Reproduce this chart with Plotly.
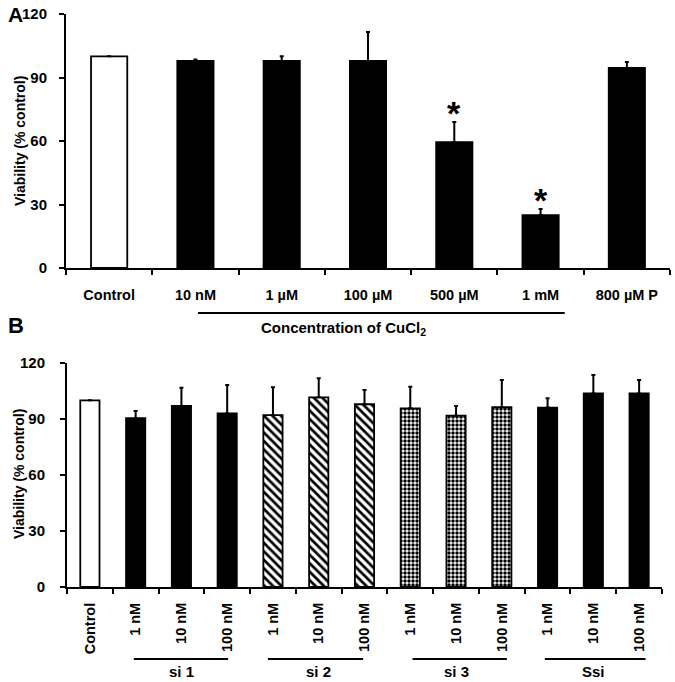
import plotly.graph_objects as go

W, H = 675, 682

# ---------------- data ----------------
a_labels = ["Control", "10 nM", "1 µM", "100 µM", "500 µM", "1 mM", "800 µM P"]
a_values = [100, 97.8, 97.8, 97.8, 59.5, 25.0, 94.5]
a_err = [0, 0.7, 2.2, 13.7, 9.5, 2.9, 2.8]
a_colors = ["white", "black", "black", "black", "black", "black", "black"]
a_signif = [False, False, False, False, True, True, False]

b_labels = ["Control", "1 nM", "10 nM", "100 nM", "1 nM", "10 nM", "100 nM",
            "1 nM", "10 nM", "100 nM", "1 nM", "10 nM", "100 nM"]
b_values = [100, 90.4, 97.0, 93.0, 92.1, 101.6, 97.9, 95.7, 91.8, 96.3, 96.1, 103.7, 103.7]
b_err = [0, 3.9, 9.8, 15.2, 14.9, 10.2, 7.6, 11.6, 5.2, 14.6, 5.0, 9.9, 7.2]
b_group = ["control", "si1", "si1", "si1", "si2", "si2", "si2",
           "si3", "si3", "si3", "ssi", "ssi", "ssi"]
b_group_names = ["si 1", "si 2", "si 3", "Ssi"]
b_group_center = [2, 5, 8, 11]
b_group_start = [0.96, 3.89, 7.05, 9.94]
b_group_end = [3.02, 5.97, 9.11, 12.14]

y_ticks = [0, 30, 60, 90, 120]

FONT = "Liberation Sans, Arial, sans-serif"


def px_x(p):
    return p / W


def px_y(p):
    return 1 - p / H


fig = go.Figure()

# ---------- panel A ----------
xa = list(range(len(a_labels)))
fig.add_trace(go.Bar(
    x=xa, y=a_values, width=0.42,
    marker=dict(color=a_colors, line=dict(color="black", width=1.8)),
    error_y=dict(type="data", symmetric=False, array=a_err,
                 arrayminus=[0] * len(a_err), color="black", thickness=2, width=2),
    xaxis="x", yaxis="y", showlegend=False,
))

# ---------- panel B ----------
style = {
    "control": dict(color="white", pattern=dict(shape="")),
    "si1": dict(color="black", pattern=dict(shape="")),
    "si2": dict(color="white", pattern=dict(shape="\\", fgcolor="black", bgcolor="white",
                                             size=6, solidity=0.45)),
    "si3": dict(color="white", pattern=dict(shape=".", fgcolor="black", bgcolor="white",
                                             size=4, solidity=0.6)),
    "ssi": dict(color="black", pattern=dict(shape="")),
}
for g in ["control", "si1", "si2", "si3", "ssi"]:
    idx = [i for i, gg in enumerate(b_group) if gg == g]
    fig.add_trace(go.Bar(
        x=idx, y=[b_values[i] for i in idx], width=0.42,
        marker=dict(color=style[g]["color"], pattern=style[g]["pattern"],
                    line=dict(color="black", width=1.8)),
        error_y=dict(type="data", symmetric=False, array=[b_err[i] for i in idx],
                     arrayminus=[0] * len(idx), color="black", thickness=2, width=2),
        xaxis="x2", yaxis="y2", showlegend=False,
    ))

axis_common = dict(showline=True, linecolor="black", linewidth=2, showgrid=False,
                   zeroline=False, mirror=False, automargin=False,
                   ticklabeloverflow="allow")

fig.update_layout(
    template="none",
    width=W, height=H,
    margin=dict(l=0, r=0, t=0, b=0),
    paper_bgcolor="white", plot_bgcolor="white",
    font=dict(family=FONT, color="black", size=13),
    barmode="overlay",
    xaxis=dict(
        **axis_common, domain=[px_x(66), px_x(670)], anchor="y",
        range=[-0.5, len(a_labels) - 0.5],
        tickvals=xa, ticktext=a_labels, ticks="", ticklen=0,
        tickfont=dict(family=FONT, size=14.5, weight="bold"),
        ticklabelstandoff=13,
        minor=dict(tickvals=[i + 0.5 for i in range(-1, len(a_labels))],
                   ticks="outside", ticklen=5, tickwidth=2, tickcolor="black"),
    ),
    yaxis=dict(
        **axis_common, domain=[px_y(268), px_y(14)], anchor="x",
        range=[0, 120], tickvals=y_ticks, ticks="outside", ticklen=5, tickwidth=2,
        tickcolor="black", tickfont=dict(family=FONT, size=15, weight="bold"),
        ticklabelstandoff=9,
    ),
    xaxis2=dict(
        **axis_common, domain=[px_x(67), px_x(662)], anchor="y2",
        range=[-0.5, len(b_labels) - 0.5],
        tickvals=list(range(len(b_labels))), ticktext=b_labels, ticks="", ticklen=0,
        tickangle=-90, tickfont=dict(family=FONT, size=14.5, weight="bold"),
        ticklabelstandoff=8,
        minor=dict(tickvals=[i + 0.5 for i in range(-1, len(b_labels))],
                   ticks="outside", ticklen=5, tickwidth=2, tickcolor="black"),
    ),
    yaxis2=dict(
        **axis_common, domain=[px_y(587), px_y(363)], anchor="x2",
        range=[0, 120], tickvals=y_ticks, ticks="outside", ticklen=5, tickwidth=2,
        tickcolor="black", tickfont=dict(family=FONT, size=15, weight="bold"),
        ticklabelstandoff=12,
    ),
)

annotations = []
shapes = []


def note(text, x, y, size, xref="paper", yref="paper", angle=0):
    return dict(text=text, x=x, y=y, xref=xref, yref=yref, showarrow=False,
                textangle=angle, xanchor="center", yanchor="middle",
                font=dict(size=size, family=FONT, color="black"))


# y-axis titles
annotations.append(note("<b>Viability (% control)</b>", px_x(20), px_y(141), 14, angle=-90))
annotations.append(note("<b>Viability (% control)</b>", px_x(19), px_y(474), 14, angle=-90))

# panel letters
annotations.append(note("<b>A</b>", px_x(15), px_y(15), 21))
annotations.append(note("<b>B</b>", px_x(16), px_y(325), 22))

# significance asterisks
for i, s in enumerate(a_signif):
    if s:
        annotations.append(dict(text="<b>*</b>", x=i, y=a_values[i] + a_err[i],
                                xref="x", yref="y", xanchor="center", yanchor="bottom",
                                showarrow=False, yshift=-12,
                                font=dict(size=34, family=FONT, color="black")))

# concentration bracket, panel A
shapes.append(dict(type="line", xref="x", yref="paper", x0=1.03, x1=5.28,
                   y0=px_y(313), y1=px_y(313), line=dict(color="black", width=2)))
annotations.append(note("<b>Concentration of CuCl<sub>2</sub></b>", 2.72, px_y(328), 15,
                        xref="x"))

# group brackets, panel B
for name, c, x0, x1 in zip(b_group_names, b_group_center, b_group_start, b_group_end):
    shapes.append(dict(type="line", xref="x2", yref="paper", x0=x0, x1=x1,
                       y0=px_y(659), y1=px_y(659), line=dict(color="black", width=2)))
    annotations.append(note("<b>" + name + "</b>", c, px_y(671), 15, xref="x2"))

fig.update_layout(annotations=annotations, shapes=shapes)

fig.write_html("out.html",
               config={"displayModeBar": False},
               post_script="document.body.style.margin='0px';"
                           "document.body.style.overflow='hidden';")
